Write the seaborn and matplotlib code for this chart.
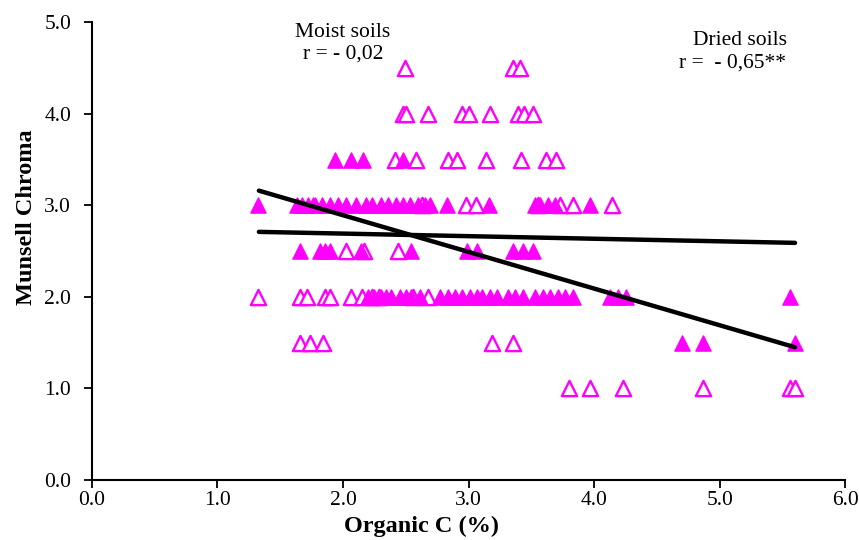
import matplotlib
matplotlib.use("Agg")
import matplotlib.pyplot as plt
import seaborn as sns
import pandas as pd

# ---- Data ----
# Dried soils (filled triangles)
dried_x = [1.94, 2.06, 2.16, 2.48,
           1.32, 1.63, 1.67, 1.72, 1.76, 1.78, 1.83, 1.90, 1.96, 2.02, 2.10, 2.18, 2.23,
           2.30, 2.36, 2.42, 2.48, 2.53, 2.60, 2.65, 2.69, 2.83, 3.16, 3.53, 3.57, 3.63,
           3.69, 3.97,
           1.66, 1.82, 1.86, 1.90, 2.14, 2.54, 2.99, 3.07, 3.35, 3.43, 3.51,
           2.20, 2.25, 2.30, 2.34, 2.38, 2.45, 2.50, 2.54, 2.61, 2.77, 2.84, 2.89, 2.95,
           3.01, 3.07, 3.11, 3.17, 3.23, 3.31, 3.37, 3.43, 3.53, 3.59, 3.65, 3.71, 3.77,
           3.83, 4.13, 4.19, 4.25, 5.56,
           4.70, 4.87, 5.60]
dried_y = [3.5] * 4 + [3.0] * 28 + [2.5] * 11 + [2.0] * 31 + [1.5] * 3

# Moist soils (open triangles)
moist_x = [2.49, 3.35, 3.41,
           2.48, 2.50, 2.68, 2.95, 3.00, 3.17, 3.39, 3.44, 3.51,
           2.41, 2.58, 2.84, 2.91, 3.14, 3.42, 3.62, 3.70,
           2.63, 2.98, 3.06, 3.55, 3.73, 3.83, 4.14,
           2.02, 2.17, 2.44,
           1.32, 1.66, 1.71, 1.86, 1.90, 2.06, 2.15, 2.23, 2.29, 2.56, 2.68,
           1.66, 1.74, 1.84, 3.19, 3.35,
           3.80, 3.97, 4.23, 4.87, 5.56, 5.60]
moist_y = ([4.5] * 3 + [4.0] * 9 + [3.5] * 8 + [3.0] * 7 + [2.5] * 3 +
           [2.0] * 11 + [1.5] * 5 + [1.0] * 6)

# Trend lines (end points)
fit_x = [1.33, 5.60]
fit_moist_y = [2.71, 2.59]
fit_dried_y = [3.16, 1.45]

x_ticks = [0.0, 1.0, 2.0, 3.0, 4.0, 5.0, 6.0]
y_ticks = [0.0, 1.0, 2.0, 3.0, 4.0, 5.0]

# ---- Plot ----
sns.set_style("ticks")
plt.rcParams["font.family"] = ["Liberation Serif", "DejaVu Serif"]
plt.rcParams["xtick.direction"] = "out"
plt.rcParams["ytick.direction"] = "out"
plt.rcParams["text.color"] = "black"
plt.rcParams["axes.labelcolor"] = "black"
plt.rcParams["xtick.color"] = "black"
plt.rcParams["ytick.color"] = "black"
plt.rcParams["xtick.labelcolor"] = "black"
plt.rcParams["ytick.labelcolor"] = "black"

fig = plt.figure(figsize=(8.59, 5.40), dpi=100)
ax = fig.add_axes([0.107, 0.111, 0.877, 0.848])

magenta = "#FF00FF"
dried_df = pd.DataFrame({"x": dried_x, "y": dried_y})
moist_df = pd.DataFrame({"x": moist_x, "y": moist_y})

sns.scatterplot(data=moist_df, x="x", y="y", ax=ax, marker="^", s=120,
                facecolor="white", edgecolor=magenta, linewidth=1.7, zorder=3)
sns.scatterplot(data=dried_df, x="x", y="y", ax=ax, marker="^", s=120,
                color=magenta, edgecolor=magenta, linewidth=1.0, zorder=4)

lines_df = pd.DataFrame({"x": fit_x * 2,
                         "y": fit_moist_y + fit_dried_y,
                         "g": ["moist"] * 2 + ["dried"] * 2})
sns.lineplot(data=lines_df, x="x", y="y", units="g", estimator=None, ax=ax,
             color="black", linewidth=3.2, zorder=5, solid_capstyle="round")

ax.set_xlim(0, 6)
ax.set_ylim(0, 5)
ax.set_xticks(x_ticks)
ax.set_yticks(y_ticks)
ax.set_xticklabels([f"{v:.1f}" for v in x_ticks], fontsize=15.5, color="black")
ax.set_yticklabels([f"{v:.1f}" for v in y_ticks], fontsize=15.5, color="black")
ax.tick_params(axis="y", length=6, width=1.3, color="black", pad=9)
ax.tick_params(axis="x", length=6, width=1.3, color="black", pad=2)
for side in ["left", "bottom"]:
    ax.spines[side].set_linewidth(1.5)
    ax.spines[side].set_color("black")
sns.despine(ax=ax)

ax.set_xlabel("Organic C (%)", fontsize=17.5, fontweight="bold", color="black")
ax.set_ylabel("Munsell Chroma", fontsize=17.5, fontweight="bold", color="black")
ax.xaxis.set_label_coords(0.437, -0.077)
ax.yaxis.set_label_coords(-0.073, 0.574)

ax.text(2.0, 4.89, "Moist soils", ha="center", va="center", fontsize=15.5, color="black")
ax.text(2.0, 4.65, "r = - 0,02", ha="center", va="center", fontsize=15.5, color="black")
ax.text(5.16, 4.80, "Dried soils", ha="center", va="center", fontsize=15.5, color="black")
ax.text(5.10, 4.55, "r =  - 0,65**", ha="center", va="center", fontsize=15.5, color="black")

fig.savefig("out.png", dpi=100)
